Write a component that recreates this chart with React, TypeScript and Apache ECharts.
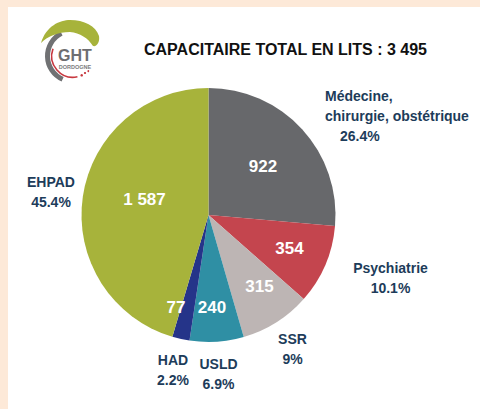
import React, { useEffect, useRef } from "react";
import * as echarts from "echarts";

const categories = [
  "Médecine, chirurgie, obstétrique",
  "Psychiatrie",
  "SSR",
  "USLD",
  "HAD",
  "EHPAD",
];
const bedCounts = [922, 354, 315, 240, 77, 1587];
const sliceColors = ["#67686b", "#c4454e", "#bdb5b4", "#2f8fa4", "#253489", "#a7b33b"];
const titleText = "CAPACITAIRE TOTAL EN LITS : 3 495";

// label anchor positions (px in the chart)
const valueLabelPos = [
  [263, 166],
  [289.5, 248.5],
  [259.5, 286.5],
  [212, 307],
  [176, 307],
  [144.5, 199.5],
];
const nameLabelPos = [
  [325, 116],
  [390.5, 278],
  [292.5, 349],
  [218.5, 373.5],
  [173, 370],
  [51, 192],
];
const nameLabelAlign = ["left", "center", "center", "center", "center", "center"];

const crescentD =
  "M 41 43 C 46 26 60 20 70 20 C 84 20 96 26 99 36 C 100 42 97 47 93 46 C 88 38 80 33 70 32 C 58 32 48 36 41 43 Z";

const deg = (d: number) => (d * Math.PI) / 180;
const fmtThousands = (v: number) => String(v).replace(/\B(?=(\d{3})+(?!\d))/g, " ");

export default function App() {
  const ref = useRef<HTMLDivElement>(null);
  useEffect(() => {
    if (!ref.current) return;
    try {
      echarts.graphic.registerShape("ghtCrescent", echarts.graphic.extendPath(crescentD, {}));
    } catch (e) {}
    const chart = echarts.init(ref.current, undefined, { renderer: "svg" });
    const data = categories.map((name, i) => ({
      name,
      value: bedCounts[i],
      itemStyle: { color: sliceColors[i] },
    }));
    const labelFont = "Liberation Sans, Arial, sans-serif";
    const richBase = { fontFamily: labelFont, fontWeight: "bold", fontSize: 14, color: "#1d3c5a", lineHeight: 20 };
    chart.setOption({
      animation: false,
      backgroundColor: "#fde9d8",
      graphic: [
        { type: "rect", z: -10, shape: { x: 8, y: 7, width: 480, height: 410 }, style: { fill: "#ffffff" } },
        {
          type: "arc",
          shape: { cx: 73, cy: 56, r: 25.5, startAngle: deg(114), endAngle: deg(243), clockwise: true },
          style: { stroke: "#707173", lineWidth: 5, fill: null },
        },
        {
          type: "arc",
          shape: { cx: 73, cy: 56, r: 21.3, startAngle: deg(78), endAngle: deg(200), clockwise: true },
          style: { stroke: "#c7383f", lineWidth: 1.6, fill: null },
        },
        { type: "circle", shape: { cx: 81.7, cy: 75.3, r: 1.3 }, style: { fill: "#c7383f" } },
        { type: "circle", shape: { cx: 85, cy: 73, r: 1.1 }, style: { fill: "#c7383f" } },
        { type: "circle", shape: { cx: 88.3, cy: 71.1, r: 0.9 }, style: { fill: "#c7383f" } },
        { type: "ghtCrescent", x: 0, y: 0, style: { fill: "#a7b33b" } },
        {
          type: "text",
          x: 75,
          y: 55,
          style: {
            text: "GHT",
            font: "bold 16px Liberation Sans, Arial, sans-serif",
            fill: "#6d6e71",
            align: "center",
            verticalAlign: "middle",
          },
        },
        {
          type: "text",
          x: 75,
          y: 66.8,
          style: {
            text: "DORDOGNE",
            font: "bold 5.5px Liberation Sans, Arial, sans-serif",
            fill: "#7a7b7d",
            align: "center",
            verticalAlign: "middle",
          },
        },
        {
          type: "text",
          x: 285.5,
          y: 49,
          style: {
            text: titleText,
            font: "bold 16px Liberation Sans, Arial, sans-serif",
            fill: "#111111",
            align: "center",
            verticalAlign: "middle",
          },
        },
      ],
      series: [
        {
          type: "pie",
          center: [208.5, 215],
          radius: [0, 127],
          startAngle: 90,
          clockwise: true,
          avoidLabelOverlap: false,
          silent: true,
          data,
          label: {
            show: true,
            position: "inside",
            formatter: (p: any) => fmtThousands(p.value),
            color: "#ffffff",
            fontFamily: labelFont,
            fontWeight: "bold",
            fontSize: 17,
          },
          labelLine: { show: false },
          labelLayout: (p: any) => ({
            x: valueLabelPos[p.dataIndex][0],
            y: valueLabelPos[p.dataIndex][1],
            align: "center",
            verticalAlign: "middle",
          }),
        },
        {
          type: "pie",
          center: [208.5, 215],
          radius: [0, 127],
          startAngle: 90,
          clockwise: true,
          avoidLabelOverlap: false,
          silent: true,
          percentPrecision: 1,
          itemStyle: { color: "rgba(0,0,0,0)" },
          data: categories.map((name, i) => ({ name, value: bedCounts[i] })),
          label: {
            show: true,
            position: "outside",
            fontFamily: labelFont,
            fontWeight: "bold",
            fontSize: 14,
            color: "#1d3c5a",
            lineHeight: 20,
            formatter: (p: any) => {
              const lines = String(p.name).replace(", ", ",\n").split("\n");
              const tag = p.dataIndex === 0 ? "pi" : "p";
              return lines.map((l) => `{n|${l}}`).join("\n") + `\n{${tag}|${p.percent}%}`;
            },
            rich: {
              n: richBase,
              p: richBase,
              pi: { ...richBase, padding: [0, 0, 0, 15] },
            },
          },
          labelLine: { show: false },
          labelLayout: (p: any) => ({
            x: nameLabelPos[p.dataIndex][0],
            y: nameLabelPos[p.dataIndex][1],
            align: nameLabelAlign[p.dataIndex],
            verticalAlign: "middle",
          }),
        },
      ],
    });
    return () => chart.dispose();
  }, []);
  return (
    <div
      ref={ref}
      style={{ position: "fixed", left: 0, top: 0, width: 480, height: 409 }}
    />
  );
}
